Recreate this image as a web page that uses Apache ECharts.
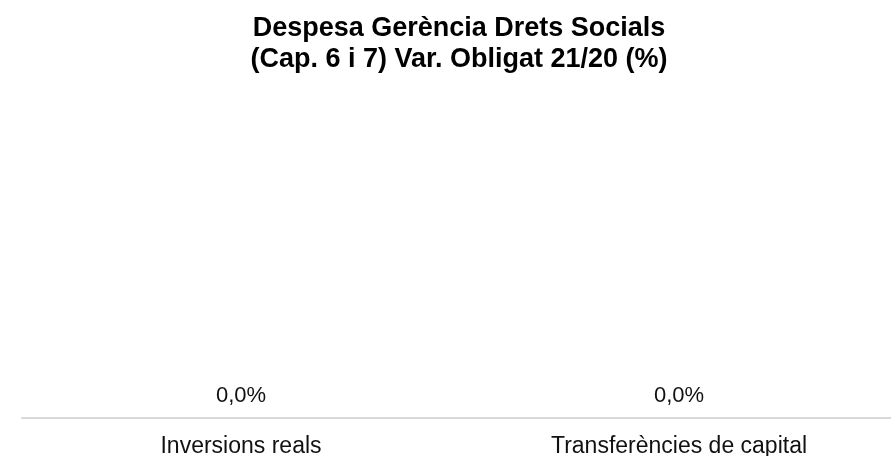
<!DOCTYPE html>
<html>
<head>
<meta charset="utf-8">
<script src="https://cdn.jsdelivr.net/npm/echarts@6/dist/echarts.min.js"></script>
<style>
  html, body { margin: 0; padding: 0; background: #fff; }
  #chart { width: 891px; height: 456px; }
</style>
</head>
<body>
<div id="chart"></div>
<script>
// Capital spending categories and their 2021/2020 variation (%)
const categories = ['Inversions reals', 'Transferències de capital'];
const variation = [0.0, 0.0];
const titleLines = ['Despesa Gerència Drets Socials', '(Cap. 6 i 7) Var. Obligat 21/20 (%)'];

const fmt = v => v.toFixed(1).replace('.', ',') + '%';

const chart = echarts.init(document.getElementById('chart'), null, { renderer: 'canvas' });
chart.setOption({
  animation: false,
  title: {
    text: titleLines.join('\n'),
    left: 454,
    top: 8,
    textAlign: 'center',
    textStyle: {
      fontFamily: 'Liberation Sans, Arial, sans-serif',
      fontWeight: 'bold',
      fontSize: 27,
      lineHeight: 31,
      color: '#000'
    }
  },
  grid: { left: 22, right: -7, top: 90, bottom: 38, outerBoundsMode: 'none', containLabel: false },
  xAxis: {
    type: 'category',
    data: categories,
    axisLine: { lineStyle: { color: '#d9d9d9', width: 2 } },
    axisTick: { show: false },
    axisLabel: {
      margin: 17,
      fontFamily: 'Liberation Sans, Arial, sans-serif',
      fontSize: 23,
      color: '#111'
    }
  },
  yAxis: { type: 'value', min: 0, max: 1, show: false },
  series: [{
    type: 'bar',
    data: variation,
    barWidth: '60%',
    itemStyle: { color: '#4472c4' },
    label: {
      show: true,
      position: 'top',
      distance: 11,
      formatter: p => fmt(p.value),
      fontFamily: 'Liberation Sans, Arial, sans-serif',
      fontSize: 22,
      color: '#111'
    }
  }]
});
</script>
</body>
</html>
